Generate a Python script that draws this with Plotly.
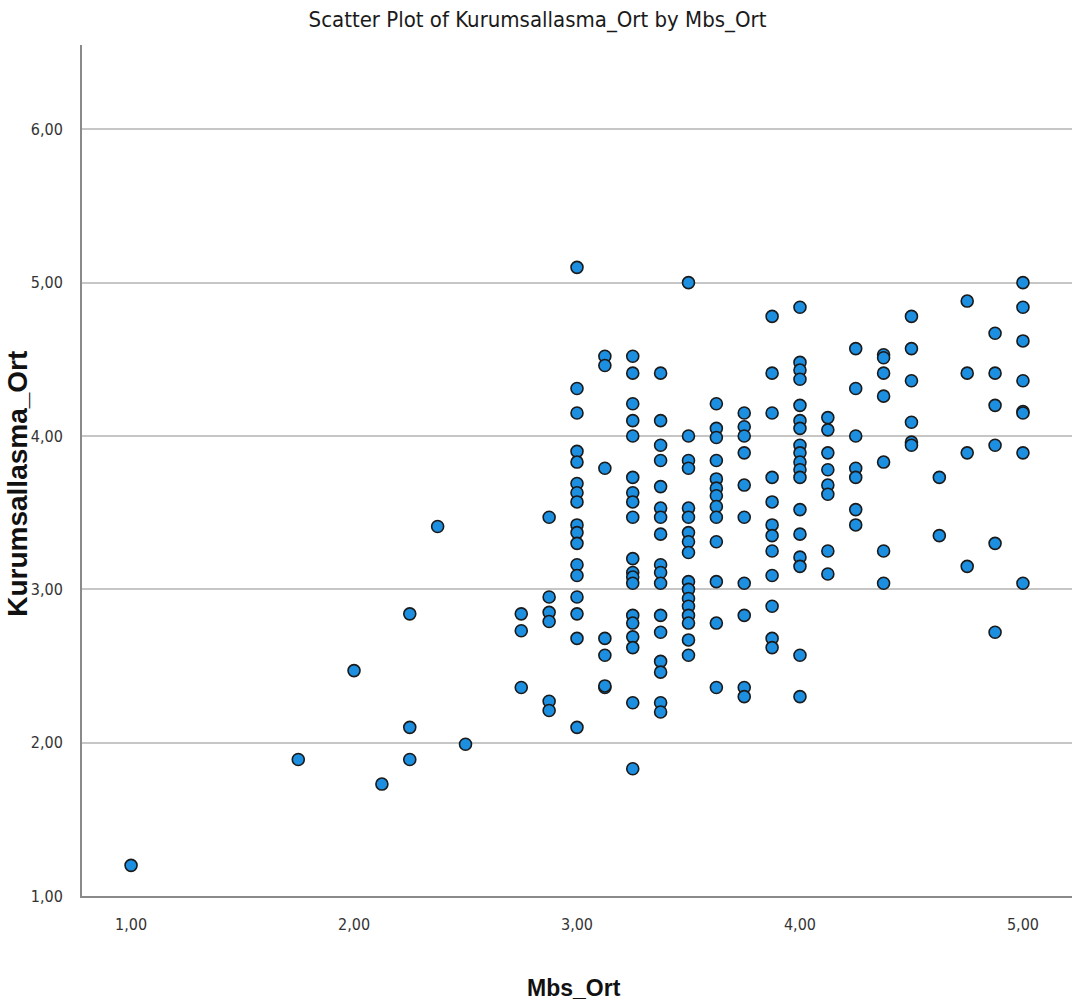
import plotly.graph_objects as go

# Mbs_Ort (x) and Kurumsallasma_Ort (y) values, read per x-level
mbs_levels = [1.0, 1.75, 2.0, 2.125, 2.25, 2.375, 2.5, 2.75, 2.875, 3.0, 3.125, 3.25,
              3.375, 3.5, 3.625, 3.75, 3.875, 4.0, 4.125, 4.25, 4.375, 4.5, 4.625,
              4.75, 4.875, 5.0]

kurum_at_1_00 = [1.20]
kurum_at_1_75 = [1.89]
kurum_at_2_00 = [2.47]
kurum_at_2_125 = [1.73]
kurum_at_2_25 = [2.84, 2.10, 1.89]
kurum_at_2_375 = [3.41]
kurum_at_2_50 = [1.99]
kurum_at_2_75 = [2.84, 2.73, 2.36]
kurum_at_2_875 = [3.47, 2.95, 2.85, 2.79, 2.27, 2.21]
kurum_at_3_00 = [5.10, 4.31, 4.15, 3.90, 3.83, 3.69, 3.63, 3.57, 3.42, 3.37, 3.30,
                 3.16, 3.09, 2.95, 2.84, 2.68, 2.10]
kurum_at_3_125 = [4.52, 4.46, 3.79, 2.68, 2.57, 2.36, 2.37]
kurum_at_3_25 = [4.52, 4.41, 4.21, 4.10, 4.00, 3.73, 3.63, 3.57, 3.47, 3.20, 3.11,
                 3.08, 3.04, 2.83, 2.78, 2.69, 2.62, 2.26, 1.83]
kurum_at_3_375 = [4.41, 4.10, 3.94, 3.84, 3.67, 3.53, 3.47, 3.36, 3.16, 3.11, 3.04,
                  2.83, 2.72, 2.53, 2.46, 2.26, 2.20]
kurum_at_3_50 = [5.00, 4.00, 3.84, 3.79, 3.53, 3.47, 3.37, 3.31, 3.24, 3.05, 3.00,
                 2.94, 2.89, 2.83, 2.78, 2.67, 2.57]
kurum_at_3_625 = [4.21, 4.05, 3.99, 3.84, 3.72, 3.66, 3.61, 3.54, 3.47, 3.31, 3.05,
                  2.78, 2.36]
kurum_at_3_75 = [4.15, 4.06, 4.00, 3.89, 3.68, 3.47, 3.04, 2.83, 2.36, 2.30]
kurum_at_3_875 = [4.78, 4.41, 4.15, 3.73, 3.57, 3.42, 3.35, 3.25, 3.09, 2.89, 2.68, 2.62]
kurum_at_4_00 = [4.84, 4.48, 4.43, 4.37, 4.20, 4.10, 4.05, 3.94, 3.89, 3.83, 3.78,
                 3.73, 3.52, 3.36, 3.21, 3.15, 2.57, 2.30]
kurum_at_4_125 = [4.12, 4.04, 3.89, 3.78, 3.68, 3.62, 3.25, 3.10]
kurum_at_4_25 = [4.57, 4.31, 4.00, 3.79, 3.73, 3.52, 3.42]
kurum_at_4_375 = [4.53, 4.51, 4.41, 4.26, 3.83, 3.25, 3.04]
kurum_at_4_50 = [4.78, 4.57, 4.36, 4.09, 3.96, 3.94]
kurum_at_4_625 = [3.73, 3.35]
kurum_at_4_75 = [4.88, 4.41, 3.89, 3.15]
kurum_at_4_875 = [4.67, 4.41, 4.20, 3.94, 3.30, 2.72]
kurum_at_5_00 = [5.00, 4.84, 4.62, 4.36, 4.16, 4.15, 3.89, 3.04]

kurum_groups = [kurum_at_1_00, kurum_at_1_75, kurum_at_2_00, kurum_at_2_125, kurum_at_2_25,
                kurum_at_2_375, kurum_at_2_50, kurum_at_2_75, kurum_at_2_875, kurum_at_3_00,
                kurum_at_3_125, kurum_at_3_25, kurum_at_3_375, kurum_at_3_50, kurum_at_3_625,
                kurum_at_3_75, kurum_at_3_875, kurum_at_4_00, kurum_at_4_125, kurum_at_4_25,
                kurum_at_4_375, kurum_at_4_50, kurum_at_4_625, kurum_at_4_75, kurum_at_4_875,
                kurum_at_5_00]

x_ticks = [1, 2, 3, 4, 5]
y_ticks = [1, 2, 3, 4, 5, 6]

mbs_ort = []
kurumsallasma_ort = []
for lvl, grp in zip(mbs_levels, kurum_groups):
    for v in grp:
        mbs_ort.append(lvl)
        kurumsallasma_ort.append(v)

NARROW = "Liberation Sans Narrow, Arial Narrow, DejaVu Sans Condensed, Liberation Sans, sans-serif"
BOLD = "Liberation Sans, Arial, sans-serif"

fig = go.Figure()
fig.add_trace(go.Scatter(
    x=mbs_ort, y=kurumsallasma_ort, mode="markers",
    marker=dict(size=12, color="#1d8fe1", line=dict(color="#1a1a1a", width=1.6)),
    showlegend=False, hoverinfo="x+y",
))

fig.update_layout(
    width=1075, height=1008,
    margin=dict(l=82, r=3, t=45, b=112),
    paper_bgcolor="white", plot_bgcolor="white",
    separators=",.",
    title=dict(text="Scatter Plot of Kurumsallasma_Ort by Mbs_Ort",
               font=dict(family=NARROW, size=22, color="#1a1a1a"),
               x=0.5, xanchor="center", xref="container", y=0.981, yanchor="middle", yref="container"),
    xaxis=dict(range=[0.78, 5.22], tickvals=x_ticks, tickformat=".2f",
               showgrid=False, zeroline=False, showline=True, linecolor="#8a8a8a", linewidth=2,
               ticks="", tickfont=dict(family=NARROW, size=16, color="#333"),
               ticklabelstandoff=13),
    yaxis=dict(range=[1, 6.55], tickvals=y_ticks, tickformat=".2f",
               showgrid=True, gridcolor="#c6c6c6", gridwidth=2, zeroline=False,
               showline=True, linecolor="#8a8a8a", linewidth=2,
               ticks="", tickfont=dict(family=NARROW, size=16, color="#333"),
               ticklabelstandoff=14),
    annotations=[
        dict(text="<b>Mbs_Ort</b>", xref="paper", yref="paper", x=0.4965, y=-0.108,
             xanchor="center", yanchor="middle", showarrow=False,
             font=dict(family=BOLD, size=23, color="#111")),
        dict(text="<b>Kurumsallasma_Ort</b>", xref="paper", yref="paper", x=-0.066, y=0.484,
             xanchor="center", yanchor="middle", showarrow=False, textangle=-90,
             font=dict(family=BOLD, size=28, color="#111")),
    ],
)

fig.write_html("out.html", config={"displayModeBar": False},
               post_script="document.body.style.margin='0';")
